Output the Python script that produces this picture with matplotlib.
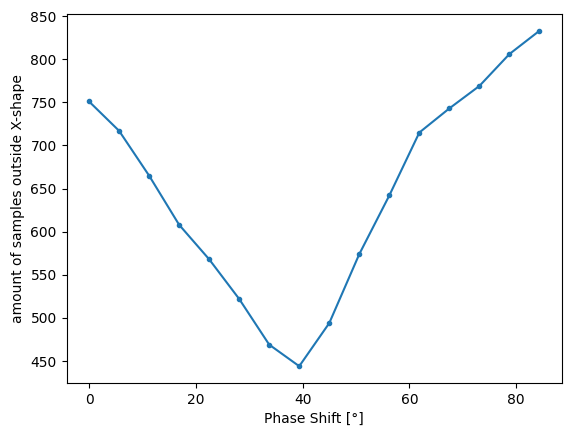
import numpy as np
import matplotlib
matplotlib.use("Agg")
import matplotlib.pyplot as plt

# phase shift in degrees, 16 steps over 90 degrees
phase_shift = [0.0, 5.625, 11.25, 16.875, 22.5, 28.125, 33.75, 39.375,
               45.0, 50.625, 56.25, 61.875, 67.5, 73.125, 78.75, 84.375]
# samples outside x-shape
outside_count = [751, 717, 665, 608, 568, 522, 469, 444,
                 494, 574, 642, 715, 743, 769, 806, 833]

fig = plt.figure(figsize=(5.71, 4.36), dpi=100)
ax = fig.add_subplot(111)
ax.plot(phase_shift, outside_count, marker='.', color='#1f77b4')
ax.set_xlabel("Phase Shift [°]")
ax.set_ylabel("amount of samples outside X-shape")
plt.subplots_adjust(left=0.1165, right=0.9842, top=0.9679, bottom=0.1216)
fig.savefig("out.png", dpi=100)
